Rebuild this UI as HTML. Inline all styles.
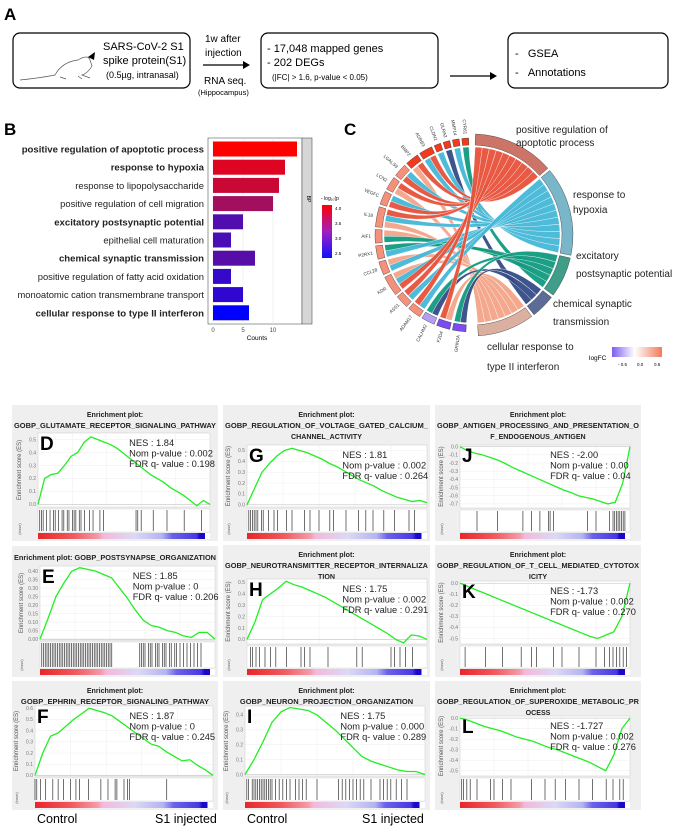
<!DOCTYPE html>
<html><head><meta charset="utf-8">
<style>
html,body{margin:0;padding:0;background:#fff;}
svg{display:block;font-family:"Liberation Sans",sans-serif;}
</style></head>
<body>
<svg id="fig" width="675" height="828" viewBox="0 0 675 828" xmlns="http://www.w3.org/2000/svg">
<defs>
<linearGradient id="hg" x1="0" x2="1" y1="0" y2="0">
<stop offset="0" stop-color="#e8262a"/><stop offset="0.2" stop-color="#f0585c"/><stop offset="0.35" stop-color="#f49aa8"/>
<stop offset="0.38" stop-color="#f4b8dc"/><stop offset="0.56" stop-color="#dcd8f6"/><stop offset="0.72" stop-color="#b4b4f0"/>
<stop offset="0.78" stop-color="#6a62ea"/><stop offset="0.92" stop-color="#4a38e0"/><stop offset="0.94" stop-color="#1a08c8"/><stop offset="0.97" stop-color="#1a08c8"/><stop offset="0.97" stop-color="#ffffff"/><stop offset="1" stop-color="#ffffff"/>
</linearGradient>
<linearGradient id="pg" x1="0" x2="0" y1="0" y2="1"><stop offset="0" stop-color="#ff0000"/><stop offset="0.5" stop-color="#a020c0"/><stop offset="1" stop-color="#1010ff"/></linearGradient>
<linearGradient id="lg" x1="0" x2="1"><stop offset="0" stop-color="#7b5cf0"/><stop offset="0.45" stop-color="#ffffff"/><stop offset="1" stop-color="#f27a5c"/></linearGradient>
</defs>

<!-- Panel A -->
<g>
<text x="4" y="20" font-size="17" font-weight="bold">A</text>
<rect x="13" y="33" width="177" height="55" rx="7" fill="none" stroke="#000" stroke-width="1.2"/>
<path d="M20 80 Q40 78 55 75 Q62 62 78 60 Q88 54 90 60 L92 66 Q88 73 82 75 L90 78 M60 77 L66 79 M78 76 L82 79" fill="none" stroke="#555" stroke-width="0.7"/>
<path d="M88 57 L95 52 L94 60 Z" fill="#000"/>
<text x="103" y="50" font-size="11">SARS-CoV-2 S1</text>
<text x="103" y="64" font-size="11">spike protein(S1)</text>
<text x="106" y="78" font-size="9">(0.5µg, intranasal)</text>
<text x="205" y="42" font-size="10">1w after</text>
<text x="205" y="56" font-size="10">injection</text>
<line x1="203" y1="65" x2="244" y2="65" stroke="#000" stroke-width="1.3"/><path d="M250 65 L243 61 L243 69Z"/>
<text x="204" y="84" font-size="10">RNA seq.</text>
<text x="198" y="95" font-size="7.5">(Hippocampus)</text>
<rect x="261" y="33" width="177" height="55" rx="7" fill="none" stroke="#000" stroke-width="1.2"/>
<text x="267" y="52" font-size="11">- 17,048 mapped genes</text>
<text x="267" y="66" font-size="11">- 202 DEGs</text>
<text x="272" y="80" font-size="8">(|FC| &gt; 1.6, p-value &lt; 0.05)</text>
<line x1="450" y1="76" x2="491" y2="76" stroke="#000" stroke-width="1.3"/><path d="M497 76 L490 72 L490 80Z"/>
<rect x="508" y="33" width="160" height="55" rx="7" fill="none" stroke="#000" stroke-width="1.2"/>
<text x="515" y="57" font-size="11">-&#160;&#160;&#160;GSEA</text>
<text x="515" y="76" font-size="11">-&#160;&#160;&#160;Annotations</text>
</g>
<text x="4" y="135" font-size="17" font-weight="bold">B</text>
<text x="344" y="135" font-size="17" font-weight="bold">C</text>
<g id="barB"></g>
<g id="chordC"></g>
<g id="gsea"></g>
<text x="37" y="823" font-size="12.5">Control</text>
<text x="155" y="823" font-size="12.5">S1 injected</text>
<text x="247" y="823" font-size="12.5">Control</text>
<text x="362" y="823" font-size="12.5">S1 injected</text>
</svg>
<script>
// ---------- Panel B data ----------
const bCategories = ["positive regulation of apoptotic process","response to hypoxia","response to lipopolysaccharide","positive regulation of cell migration","excitatory postsynaptic potential","epithelial cell maturation","chemical synaptic transmission","positive regulation of fatty acid oxidation","monoatomic cation transmembrane transport","cellular response to type II interferon"];
const bBold = [1,1,0,0,1,0,1,0,0,1];
const bCounts = [14,12,11,10,5,3,7,3,5,6];
const bLogP = [4.1,3.85,3.7,3.4,2.8,2.75,2.85,2.6,2.55,2.2];
const bTicks = [0,5,10];
const bLegendTicks = ["4.0","3.5","3.0","2.5"];

// ---------- Panel C data ----------
const cGenes = ["CYR61","MMP14","GLRA2","CLDN1","ADRB3","BMP2","LGALS9","LCN2","VEGFC","IL18","AIF1","P2RX1","CCL28","KDR","ASS1","ADAM17","CALHM2","FZD4","GRIN2A"];
const cGeneFC = [0.9,0.9,0.9,0.9,0.9,0.9,0.6,0.6,0.6,0.6,0.6,0.6,0.6,0.6,0.6,0.6,-0.4,-0.7,-0.7];
const cTerms = ["positive regulation of apoptotic process","response to hypoxia","excitatory postsynaptic potential","chemical synaptic transmission","cellular response to type II interferon"];
const cLinks = [[0,2],[1,1],[2,3],[3,1],[4,0],[4,1],[5,0],[5,4],[6,1],[6,0],[7,0],[7,4],[8,1],[8,0],[9,0],[9,1],[9,4],[10,4],[10,2],[11,2],[11,1],[12,4],[12,1],[13,4],[13,1],[13,0],[14,0],[14,1],[15,0],[15,1],[16,2],[16,3],[17,0],[17,4],[18,2],[18,3]];

// ---------- GSEA data (ES evenly spaced along rank 0..1; hits as rank fraction) ----------
const dES=[0,0.2,0.23,0.24,0.3,0.37,0.4,0.48,0.52,0.5,0.48,0.46,0.43,0.39,0.35,0.31,0.27,0.23,0.2,0.17,0.13,0.1,0.07,0.03,-0.01,0.03,0.0];
const dHits=[0.01,0.02,0.03,0.05,0.07,0.09,0.1,0.12,0.14,0.15,0.17,0.18,0.2,0.21,0.22,0.24,0.25,0.27,0.3,0.32,0.36,0.38,0.57,0.58,0.6,0.67,0.75,0.85,0.95];
const eES=[0,0.12,0.25,0.33,0.4,0.42,0.41,0.4,0.38,0.36,0.3,0.24,0.17,0.11,0.08,0.07,0.05,0.04,0.02,0.01,0.04,0.04,0.0];
const eHits=[0.01,0.02,0.03,0.04,0.05,0.06,0.07,0.08,0.09,0.1,0.11,0.12,0.13,0.14,0.15,0.16,0.17,0.18,0.19,0.2,0.21,0.22,0.23,0.24,0.25,0.26,0.27,0.28,0.29,0.3,0.31,0.32,0.33,0.34,0.35,0.36,0.37,0.38,0.39,0.4,0.41,0.57,0.58,0.59,0.6,0.62,0.63,0.64,0.66,0.67,0.68,0.7,0.71,0.72,0.74,0.75,0.77,0.78,0.8,0.82,0.84,0.86,0.88,0.9,0.92];
const fES=[0,0.2,0.35,0.38,0.44,0.5,0.55,0.6,0.58,0.56,0.53,0.48,0.43,0.38,0.33,0.28,0.26,0.21,0.17,0.13,0.14,0.09,0.05,0.0];
const fHits=[0.0,0.01,0.03,0.06,0.1,0.13,0.16,0.2,0.23,0.25,0.3,0.37,0.41,0.45,0.46,0.5,0.52,0.53,0.74];
const gES=[0,0.15,0.3,0.38,0.45,0.5,0.52,0.5,0.48,0.45,0.42,0.38,0.35,0.31,0.27,0.23,0.2,0.17,0.13,0.1,0.07,0.05,0.03,0.04,0.02];
const gHits=[0.01,0.02,0.03,0.04,0.05,0.06,0.08,0.09,0.12,0.15,0.17,0.22,0.25,0.32,0.35,0.4,0.46,0.48,0.55,0.62,0.66,0.7,0.76,0.82,0.9,0.93];
const hES=[0,0.15,0.35,0.4,0.45,0.51,0.48,0.46,0.43,0.4,0.37,0.33,0.29,0.25,0.21,0.17,0.13,0.09,0.05,0.0,-0.03,0.04,0.03,0.0];
const hHits=[0.02,0.03,0.05,0.07,0.1,0.13,0.16,0.22,0.3,0.32,0.35,0.45,0.61,0.64,0.8,0.82,0.85,0.88,0.92];
const iES=[0,0.1,0.22,0.35,0.42,0.45,0.44,0.43,0.4,0.35,0.3,0.24,0.18,0.12,0.09,0.07,0.05,0.03,0.02,0.02,0.0];
const iHits=[0.01,0.02,0.04,0.05,0.06,0.07,0.08,0.09,0.1,0.11,0.12,0.13,0.14,0.15,0.17,0.19,0.21,0.23,0.25,0.28,0.3,0.32,0.34,0.4,0.52,0.54,0.56,0.58,0.6,0.62,0.64,0.66,0.7,0.75,0.77,0.79,0.81,0.84,0.87,0.9];
const jES=[0,-0.05,-0.08,-0.1,-0.13,-0.16,-0.2,-0.25,-0.29,-0.33,-0.37,-0.41,-0.45,-0.49,-0.53,-0.56,-0.6,-0.62,-0.64,-0.67,-0.7,-0.68,-0.45,0.0];
const jHits=[0.1,0.22,0.37,0.42,0.47,0.52,0.53,0.55,0.75,0.8,0.88,0.9,0.91,0.92,0.93,0.94,0.95,0.96,0.97];
const kES=[0,-0.03,-0.06,-0.09,-0.12,-0.15,-0.18,-0.21,-0.24,-0.27,-0.3,-0.33,-0.36,-0.39,-0.42,-0.45,-0.48,-0.5,-0.47,-0.44,-0.3,0.0];
const kHits=[0.03,0.15,0.25,0.36,0.42,0.45,0.55,0.6,0.7,0.8,0.85,0.88,0.9,0.92,0.94,0.96,0.98];
const lES=[0,-0.02,-0.05,-0.08,-0.1,-0.12,-0.15,-0.18,-0.2,-0.22,-0.25,-0.28,-0.3,-0.33,-0.36,-0.39,-0.42,-0.46,-0.5,-0.35,-0.1,0.0];
const lHits=[0.01,0.02,0.04,0.06,0.1,0.18,0.2,0.25,0.3,0.42,0.5,0.56,0.62,0.7,0.78,0.86,0.9,0.94,0.96];
const posTicks5=[0,0.1,0.2,0.3,0.4,0.5];
const eTicks=[0,0.05,0.1,0.15,0.2,0.25,0.3,0.35,0.4];
const fTicks=[0,0.1,0.2,0.3,0.4,0.5,0.6];
const iTicks=[0,0.1,0.2,0.3,0.4];
const jTicks=[0,-0.1,-0.2,-0.3,-0.4,-0.5,-0.6,-0.7];
const negTicks5=[0,-0.1,-0.2,-0.3,-0.4,-0.5];

const NS="http://www.w3.org/2000/svg";
function mk(tag,attrs,parent){const e=document.createElementNS(NS,tag);for(const k in attrs)e.setAttribute(k,attrs[k]);parent.appendChild(e);return e;}

// ---------- Draw B ----------
(function(){
  const g=document.getElementById('barB');
  const px0=213, pxPer=6, top=139, step=18.2, bh=15, right=302;
  const xs=v=>px0+v*pxPer;
  const bg=mk('rect',{x:208,y:138,width:right-208,height:186,fill:'#fff',stroke:'#555','stroke-width':0.6},g);
  
  
  bTicks.forEach(t=>{mk('line',{x1:xs(t),x2:xs(t),y1:138,y2:324,stroke:'#e6e6e6','stroke-width':0.6},g);
    const tx=mk('text',{x:xs(t),y:332,'font-size':6,'text-anchor':'middle',fill:'#444'},g);tx.textContent=t;
    
    });
  const col=v=>{const t=Math.max(0,Math.min(1,(v-2.2)/1.9));return `rgb(${Math.round(255*t)},${Math.round(20*(1-Math.abs(t-0.5)*2))},${Math.round(255*(1-t))})`;};
  bCategories.forEach((c,i)=>{
    const cy=top+10+i*step;
    const r=mk('rect',{x:px0,y:cy-bh/2,width:xs(bCounts[i])-px0,height:bh,fill:col(bLogP[i])},g);
    
    
    const t=mk('text',{x:204,y:cy+3.5,'font-size':bBold[i]?9.6:9.4,'text-anchor':'end','font-weight':bBold[i]?'bold':'normal',fill:'#222'},g);
    t.textContent=c;
    
    
  });
  mk('rect',{x:302,y:138,width:10,height:186,fill:'#d6d6d6',stroke:'#555','stroke-width':0.6},g);
  const bp=mk('text',{x:307,y:199,'font-size':5,transform:'rotate(90 307 199)','text-anchor':'middle'},g);bp.textContent='BP';
  const cl=mk('text',{x:257,y:340,'font-size':6.5,'text-anchor':'middle'},g);cl.textContent='Counts';
  
  
  const lt=mk('text',{x:321,y:200,'font-size':5},g);lt.textContent='- log₁₀(p';
  const lb=mk('rect',{x:322,y:205,width:10,height:53,fill:'url(#pg)'},g);
  
  
  bLegendTicks.forEach((s,i)=>{const t=mk('text',{x:335,y:210+i*15,'font-size':4.5},g);t.textContent=s;});
})();

// ---------- Draw C ----------
(function(){
  const g=document.getElementById('chordC');
  const cx=472, cy=235, r=88;
  const termColor=["#e8523b","#45b8d8","#119a80","#344b87","#f4a487"];
  const termOuter=["#cd7468","#7ab6c9","#3f9d89","#5d6c96","#dbb0a0"];
  const P=(rad,a)=>{const t=a*Math.PI/180;return [(cx+rad*Math.cos(t)).toFixed(2),(cy+rad*Math.sin(t)).toFixed(2)];};
  const gCount=cGenes.map((_,i)=>cLinks.filter(l=>l[0]===i).length);
  const tCount=cTerms.map((_,i)=>cLinks.filter(l=>l[1]===i).length);
  const gap=1.6, gTotal=cLinks.length;
  const gSpan=176-gap*cGenes.length, tSpan=176-gap*cTerms.length;
  let a=268; const gStart=[];
  cGenes.forEach((n,i)=>{gStart.push(a);a-=gCount[i]/gTotal*gSpan+gap;});
  let b=272; const tStart=[];
  cTerms.forEach((n,i)=>{tStart.push(b);b+=tCount[i]/gTotal*tSpan+gap;});
  const gu=gSpan/gTotal, tu=tSpan/gTotal;
  const gUsed=cGenes.map(()=>0);
  const fcCol=v=>v>0.8?"#f23a1f":(v>0?"#f5917a":(v>-0.5?"#b59cf5":"#7a4cf2"));
  const slots=[];
  cLinks.forEach(l=>{const ga1=gStart[l[0]]-gUsed[l[0]]*gu;gUsed[l[0]]++;slots.push([ga1,ga1-gu]);});
  const tSlot=new Array(cLinks.length);
  cTerms.forEach((_,ti)=>{
    const ids=cLinks.map((l,i)=>i).filter(i=>cLinks[i][1]===ti).sort((p,q)=>cLinks[q][0]-cLinks[p][0]);
    ids.forEach((id,k)=>{const tb1=tStart[ti]+k*tu;tSlot[id]=[tb1,tb1+tu];});
  });
  cLinks.forEach((l,i)=>{
    const [ga1,ga2]=slots[i];const [tb1,tb2]=tSlot[i];
    const p1=P(r,ga1),p2=P(r,ga2),q1=P(r,tb1),q2=P(r,tb2);
    const d=`M${p1} A${r} ${r} 0 0 0 ${p2} Q${cx} ${cy} ${q2} A${r} ${r} 0 0 0 ${q1} Q${cx} ${cy} ${p1} Z`;
    const path=mk('path',{d:d,fill:termColor[l[1]],stroke:'#fff','stroke-width':0.4,opacity:0.95},g);
    
    
  });
  cGenes.forEach((n,i)=>{
    const s=gStart[i], e=s-gCount[i]*gu;
    const r1=90,r2=97;
    const a1=P(r2,s),a2=P(r2,e),b1=P(r1,e),b2=P(r1,s);
    const seg=mk('path',{d:`M${a1} A${r2} ${r2} 0 0 0 ${a2} L${b1} A${r1} ${r1} 0 0 1 ${b2} Z`,fill:fcCol(cGeneFC[i]),stroke:'#333','stroke-width':0.4},g);
    
    
    const mid=(s+e)/2;const [lx,ly]=P(101,mid);
    const t=mk('text',{x:lx,y:ly,'font-size':4.6,'text-anchor':'end',fill:'#333','dominant-baseline':'middle',transform:`rotate(${mid-180} ${lx} ${ly})`},g);
    t.textContent=n;
    
    
  });
  cTerms.forEach((n,i)=>{
    const s=tStart[i], e=s+tCount[i]*tu;
    const r1=90,r2=101;
    const a1=P(r2,s),a2=P(r2,e),b1=P(r1,e),b2=P(r1,s);
    const seg=mk('path',{d:`M${a1} A${r2} ${r2} 0 0 1 ${a2} L${b1} A${r1} ${r1} 0 0 0 ${b2} Z`,fill:termOuter[i],stroke:'#333','stroke-width':0.4},g);
    
    
  });
  const labels=[["positive regulation of",516,133],["apoptotic process",516,146],["response to",573,198],["hypoxia",573,213],["excitatory",576,259],["postsynaptic potential",576,277],["chemical synaptic",553,307],["transmission",553,325],["cellular response to",487,350],["type II interferon",487,370]];
  labels.forEach(l=>{const t=mk('text',{x:l[1],y:l[2],'font-size':10,fill:'#222'},g);t.textContent=l[0];
    
    });
  const lf=mk('text',{x:589,y:360,'font-size':6.5},g);lf.textContent='logFC';
  const lr=mk('rect',{x:612,y:347,width:50,height:10,fill:'url(#lg)'},g);
  
  
  [["- 0.5",618],["0.0",637],["0.5",654]].forEach(s=>{const t=mk('text',{x:s[1],y:366,'font-size':4.5},g);t.textContent=s[0];});
})();

// ---------- Draw GSEA ----------
const panels=[
 {L:'D',box:[12,405,206,136],plot:[38,433,172,74],title:["Enrichment plot:","GOBP_GLUTAMATE_RECEPTOR_SIGNALING_PATHWAY"],es:dES,hits:dHits,ticks:posTicks5,yr:[-0.02,0.55],stats:["NES : 1.84","Nom p-value : 0.002","FDR q- value : 0.198"]},
 {L:'G',box:[223,405,207,136],plot:[247,445,180,62],title:["Enrichment plot:","GOBP_REGULATION_OF_VOLTAGE_GATED_CALCIUM_","CHANNEL_ACTIVITY"],es:gES,hits:gHits,ticks:posTicks5,yr:[-0.02,0.55],stats:["NES : 1.81","Nom p-value : 0.002","FDR q- value : 0.264"]},
 {L:'J',box:[435,405,206,136],plot:[460,445,170,63],title:["Enrichment plot:","GOBP_ANTIGEN_PROCESSING_AND_PRESENTATION_O","F_ENDOGENOUS_ANTIGEN"],es:jES,hits:jHits,ticks:jTicks,yr:[-0.75,0.02],stats:["NES : -2.00","Nom p-value : 0.00","FDR q- value : 0.04"]},
 {L:'E',box:[12,546,206,131],plot:[40,566,175,74],title:["Enrichment plot: GOBP_POSTSYNAPSE_ORGANIZATION"],es:eES,hits:eHits,ticks:eTicks,yr:[-0.005,0.43],stats:["NES : 1.85","Nom p-value : 0","FDR q- value : 0.206"]},
 {L:'H',box:[223,545,207,132],plot:[247,579,180,65],title:["Enrichment plot:","GOBP_NEUROTRANSMITTER_RECEPTOR_INTERNALIZA","TION"],es:hES,hits:hHits,ticks:posTicks5,yr:[-0.04,0.53],stats:["NES : 1.75","Nom p-value : 0.002","FDR q- value : 0.291"]},
 {L:'K',box:[435,545,206,132],plot:[460,581,170,63],title:["Enrichment plot:","GOBP_REGULATION_OF_T_CELL_MEDIATED_CYTOTOX","ICITY"],es:kES,hits:kHits,ticks:negTicks5,yr:[-0.55,0.02],stats:["NES : -1.73","Nom p-value : 0.002","FDR q- value : 0.270"]},
 {L:'F',box:[12,681,206,129],plot:[35,706,178,70],title:["Enrichment plot:","GOBP_EPHRIN_RECEPTOR_SIGNALING_PATHWAY"],es:fES,hits:fHits,ticks:fTicks,yr:[-0.005,0.62],stats:["NES : 1.87","Nom p-value : 0","FDR q- value : 0.245"]},
 {L:'I',box:[223,681,207,129],plot:[245,706,180,70],title:["Enrichment plot:","GOBP_NEURON_PROJECTION_ORGANIZATION"],es:iES,hits:iHits,ticks:iTicks,yr:[-0.01,0.46],stats:["NES : 1.75","Nom p-value : 0.000","FDR q- value : 0.289"]},
 {L:'L',box:[435,681,206,129],plot:[460,716,170,60],title:["Enrichment plot:","GOBP_REGULATION_OF_SUPEROXIDE_METABOLIC_PR","OCESS"],es:lES,hits:lHits,ticks:negTicks5,yr:[-0.55,0.02],stats:["NES : -1.727","Nom p-value : 0.002","FDR q- value : 0.276"]}
];
(function(){
  const root=document.getElementById('gsea');
  panels.forEach(p=>{
    const g=mk('g',{},root);
    
    
    const [bx,by,bw,bh]=p.box,[px,py,pw,ph]=p.plot;
    mk('rect',{x:bx,y:by,width:bw,height:bh,fill:'#efefef'},g);
    const n=p.title.length;
    p.title.forEach((t,i)=>{
      const y=n===1?by+14:by+12+i*11;
      const el=mk('text',{x:bx+bw/2,y:y,'font-size':7.1,'font-weight':'bold','text-anchor':'middle',fill:'#222'},g);
      el.textContent=t;
      if(t.length>30){el.setAttribute('textLength',Math.min(bw-4,t.length*4.95));el.setAttribute('lengthAdjust','spacingAndGlyphs');}
      
      
    });
    const bot=by+bh;
    mk('rect',{x:px,y:py,width:pw,height:ph,fill:'#fff',stroke:'#ccc','stroke-width':0.5},g);
    const ys=v=>py+ph-(v-p.yr[0])/(p.yr[1]-p.yr[0])*ph;
    const xs=f=>px+f*pw;
    p.ticks.forEach(t=>{
      mk('line',{x1:px,x2:px+pw,y1:ys(t),y2:ys(t),stroke:'#eee','stroke-width':0.5},g);
      const tt=mk('text',{x:px-2,y:ys(t)+1.8,'font-size':5,'text-anchor':'end',fill:'#777'},g);
      tt.textContent=t.toFixed(p.ticks===eTicks?2:1);
    });
    [0.2,0.4,0.6,0.8].forEach(f=>mk('line',{x1:xs(f),x2:xs(f),y1:py,y2:py+ph,stroke:'#eee','stroke-width':0.5},g));
    if(p.yr[0]<0&&p.yr[1]>0) mk('line',{x1:px,x2:px+pw,y1:ys(0),y2:ys(0),stroke:'#bbb','stroke-width':0.5},g);
    const yl=mk('text',{x:px-17,y:py+ph/2,'font-size':6,'text-anchor':'middle',fill:'#555',transform:`rotate(-90 ${px-17} ${py+ph/2})`},g);
    yl.textContent='Enrichment score (ES)';
    
    
    const pts=p.es.map((v,i)=>`${xs(i/(p.es.length-1)).toFixed(2)},${ys(v).toFixed(2)}`).join(' ');
    const line=mk('polyline',{points:pts,fill:'none',stroke:'#22ee22','stroke-width':1.3},g);
    
    
    const b1=py+ph+2,b2=bot-9;
    mk('rect',{x:px,y:b1,width:pw,height:b2-b1,fill:'#fff',stroke:'#ccc','stroke-width':0.4},g);
    p.hits.forEach(h=>{
      const hl=mk('line',{x1:xs(h),x2:xs(h),y1:b1+1,y2:b2-1,stroke:'#333','stroke-width':0.7},g);
      
      
    });
    const hb=mk('rect',{x:px,y:bot-8,width:pw,height:6,fill:'url(#hg)'},g);
    
    
    const rk=mk('text',{x:px-17,y:bot-12,'font-size':4,fill:'#666',transform:`rotate(-90 ${px-17} ${bot-12})`,'text-anchor':'middle'},g);rk.textContent='(base)';
    p.stats.forEach((s,i)=>{const t=mk('text',{x:px+pw*0.53,y:py+13+i*10.6,'font-size':9.3,fill:'#222'},g);t.textContent=s;
      
      });
    const L=mk('text',{x:px+2,y:py+17,'font-size':19,'font-weight':'bold'},g);L.textContent=p.L;
    
    
  });
})();
</script>
</body></html>
